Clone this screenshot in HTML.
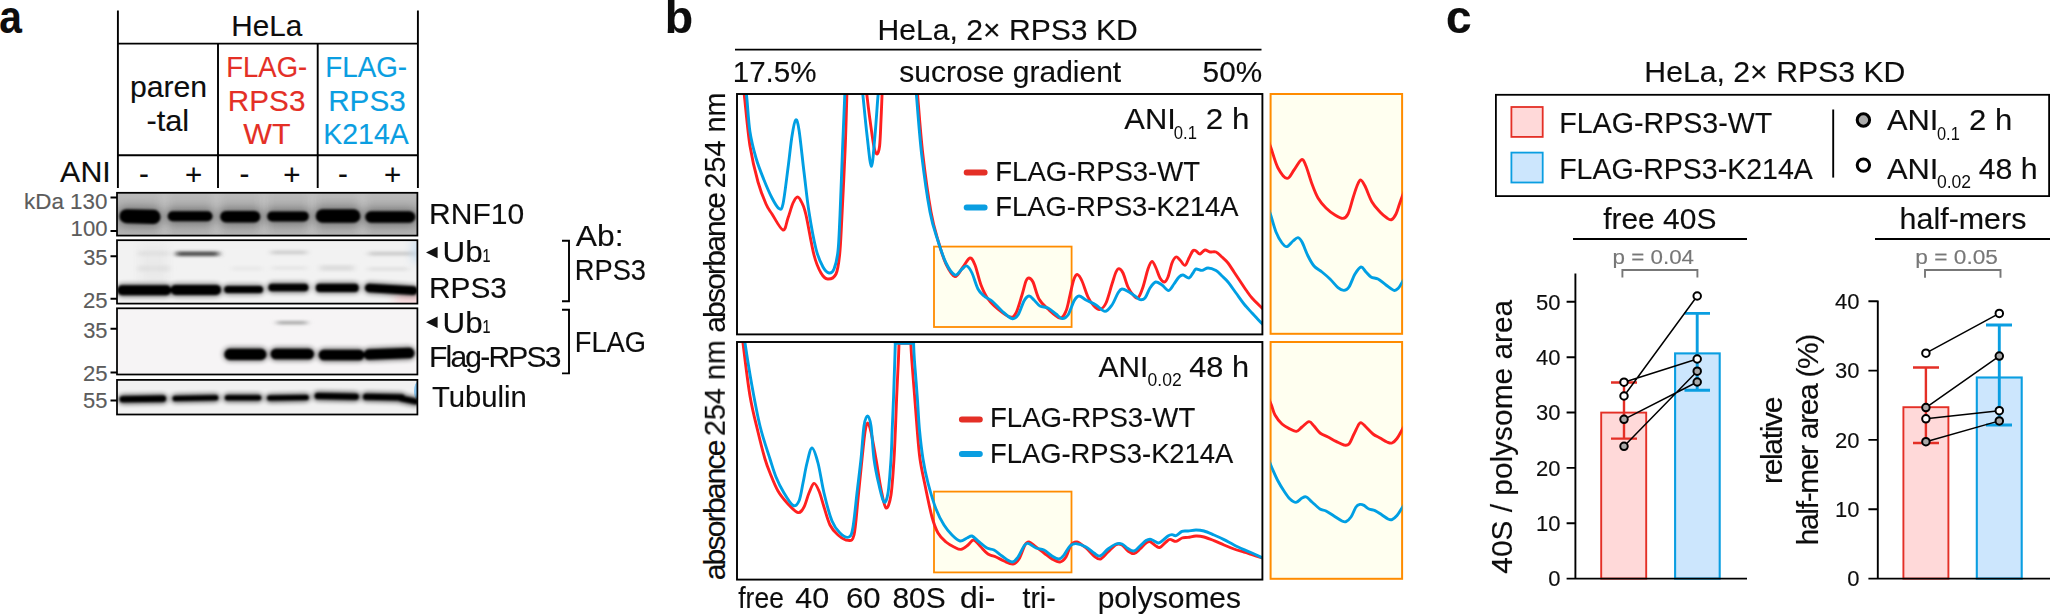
<!DOCTYPE html>
<html lang="en"><head><meta charset="utf-8"><title>Figure</title>
<style>
html,body{margin:0;padding:0;background:#fff;}
body{width:2050px;height:615px;overflow:hidden;}
svg{display:block;font-family:"Liberation Sans",Arial,sans-serif;}
text{fill:#0d0d0d;stroke:#0d0d0d;stroke-width:.14px;}
.g{fill:#5c5c5c;stroke:#5c5c5c;stroke-width:.14px;}
.s{stroke-width:0;}
.p{fill:#777;stroke:#777;stroke-width:.14px;}
.r{fill:#e42f26;stroke:#e42f26;}
.b{fill:#0a9ee1;stroke:#0a9ee1;}
</style></head><body>
<svg width="2050" height="615" viewBox="0 0 2050 615">
<defs>
<filter id="b1" x="-20%" y="-60%" width="140%" height="220%"><feGaussianBlur stdDeviation="1.3 1.1"/></filter>
<filter id="b2" x="-20%" y="-80%" width="140%" height="260%"><feGaussianBlur stdDeviation="2.4 2.2"/></filter>
<filter id="b5" x="-30%" y="-150%" width="160%" height="400%"><feGaussianBlur stdDeviation="4 5"/></filter>
<filter id="b3" x="-30%" y="-100%" width="160%" height="300%"><feGaussianBlur stdDeviation="3 1.5"/></filter>
<filter id="b4" x="-30%" y="-100%" width="160%" height="300%"><feGaussianBlur stdDeviation="5 4"/></filter>
<linearGradient id="g1" x1="0" y1="0" x2="0" y2="1"><stop offset="0" stop-color="#bcbcbc"/><stop offset="0.55" stop-color="#a6a6a6"/><stop offset="1" stop-color="#b4b4b4"/></linearGradient>
<clipPath id="k1"><rect x="117" y="192.8" width="300.4" height="42.8"/></clipPath>
<clipPath id="k2"><rect x="117" y="240.2" width="300.4" height="63.4"/></clipPath>
<clipPath id="k3"><rect x="117" y="308.3" width="300.4" height="66.2"/></clipPath>
<clipPath id="k4"><rect x="117" y="379.9" width="300.4" height="34.6"/></clipPath>
<clipPath id="c1"><rect x="737" y="94" width="525.4" height="240.4"/></clipPath>
<clipPath id="c2"><rect x="737" y="342" width="525.4" height="237.6"/></clipPath>
<clipPath id="i1"><rect x="1270.6" y="94" width="131.8" height="240.4"/></clipPath>
<clipPath id="i2"><rect x="1270.6" y="342" width="131.8" height="237"/></clipPath>
</defs>

<g id="panel-a">
<text x="-0.69" y="33.20" font-size="46" font-weight="bold" textLength="22.63" lengthAdjust="spacingAndGlyphs">a</text>
<text x="231.37" y="36.10" font-size="30.3" textLength="70.93" lengthAdjust="spacingAndGlyphs">HeLa</text>
<g stroke="#000" stroke-width="1.9" fill="none">
<path d="M117.9 10.5V188M417.9 10.5V188M218 43.6V188M317.7 43.6V188M117.9 43.6H417.9M117.9 155.2H417.9"/>
</g>
<text x="129.95" y="97.00" font-size="30" textLength="77.21" lengthAdjust="spacingAndGlyphs">paren</text>
<text x="146.43" y="130.60" font-size="30" textLength="42.72" lengthAdjust="spacingAndGlyphs">-tal</text>
<text class="r" x="226.35" y="76.70" font-size="29.3" textLength="80.77" lengthAdjust="spacingAndGlyphs">FLAG-</text>
<text class="r" x="227.87" y="110.70" font-size="29.3" textLength="77.54" lengthAdjust="spacingAndGlyphs">RPS3</text>
<text class="r" x="243.37" y="144.40" font-size="29.3" textLength="47.33" lengthAdjust="spacingAndGlyphs">WT</text>
<text class="b" x="325.32" y="76.70" font-size="29.3" textLength="81.81" lengthAdjust="spacingAndGlyphs">FLAG-</text>
<text class="b" x="328.16" y="110.70" font-size="29.3" textLength="77.64" lengthAdjust="spacingAndGlyphs">RPS3</text>
<text class="b" x="323.37" y="144.40" font-size="29.3" textLength="85.29" lengthAdjust="spacingAndGlyphs">K214A</text>
<text x="60.14" y="182.00" font-size="30.3" textLength="50.66" lengthAdjust="spacingAndGlyphs">ANI</text>
<text x="144" y="183.6" font-size="29.5" text-anchor="middle">-</text>
<text x="193.7" y="185.4" font-size="29.5" text-anchor="middle">+</text>
<text x="244.5" y="183.6" font-size="29.5" text-anchor="middle">-</text>
<text x="291.8" y="185.4" font-size="29.5" text-anchor="middle">+</text>
<text x="343" y="183.6" font-size="29.5" text-anchor="middle">-</text>
<text x="392.7" y="185.4" font-size="29.5" text-anchor="middle">+</text>
<text class="g" x="24.09" y="209.10" font-size="22.3" textLength="83.38" lengthAdjust="spacingAndGlyphs">kDa 130</text>
<text class="g" x="70.62" y="236.30" font-size="22.3" textLength="36.84" lengthAdjust="spacingAndGlyphs">100</text>
<text class="g" x="83.17" y="265.10" font-size="22.3" textLength="24.35" lengthAdjust="spacingAndGlyphs">35</text>
<text class="g" x="82.89" y="307.70" font-size="22.3" textLength="24.64" lengthAdjust="spacingAndGlyphs">25</text>
<text class="g" x="83.17" y="338.20" font-size="22.3" textLength="24.35" lengthAdjust="spacingAndGlyphs">35</text>
<text class="g" x="82.89" y="381.00" font-size="22.3" textLength="24.64" lengthAdjust="spacingAndGlyphs">25</text>
<text class="g" x="83.12" y="408.00" font-size="22.3" textLength="24.40" lengthAdjust="spacingAndGlyphs">55</text>
<path stroke="#000" stroke-width="2" d="M110.5 197.6H117M110.5 231H117M110.5 256.2H117M110.5 298.7H117M110.5 328.8H117M110.5 372.6H117M110.5 400.5H117"/>
<rect x="117" y="192.8" width="300.4" height="42.79999999999998" fill="url(#g1)"/>
<g clip-path="url(#k1)">
<g filter="url(#b4)" fill="#d2d2d2" opacity="0.8"><rect x="162.5" y="188" width="4" height="50"/><rect x="214.5" y="188" width="4" height="50"/><rect x="262" y="188" width="4" height="50"/><rect x="310" y="188" width="4" height="50"/><rect x="360.5" y="188" width="4" height="50"/></g>
<g filter="url(#b5)" fill="#000" opacity="0.32">
<rect x="117.8" y="207.3" width="44.4" height="18.5" rx="9.2" ry="9.2" transform="rotate(1.5 140.0 216.6)"/>
<rect x="166.0" y="209.1" width="48.2" height="14.5" rx="7.2" ry="7.2"/>
<rect x="218.5" y="208.7" width="43.5" height="16.0" rx="8.0" ry="8.0"/>
<rect x="265.5" y="209.2" width="45.0" height="14.5" rx="7.2" ry="7.2"/>
<rect x="314.0" y="207.0" width="48.1" height="18.0" rx="9.0" ry="9.0"/>
<rect x="363.5" y="209.0" width="53.5" height="16.0" rx="8.0" ry="8.0"/>
</g>
<g filter="url(#b1)" fill="#000">
<rect x="119.5" y="209.5" width="41.0" height="14.1" rx="7.0" ry="7.0" transform="rotate(1.5 140.0 216.6)"/>
<rect x="167.7" y="211.2" width="44.8" height="10.1" rx="5.0" ry="5.0"/>
<rect x="220.2" y="210.9" width="40.1" height="11.6" rx="5.8" ry="5.8"/>
<rect x="267.2" y="211.4" width="41.6" height="10.1" rx="5.0" ry="5.0"/>
<rect x="315.7" y="209.2" width="44.7" height="13.6" rx="6.8" ry="6.8"/>
<rect x="365.2" y="211.2" width="50.1" height="11.6" rx="5.8" ry="5.8"/>
</g></g>
<rect x="117" y="192.8" width="300.4" height="42.79999999999998" fill="none" stroke="#000" stroke-width="1.75"/>
<rect x="117" y="240.2" width="300.4" height="63.400000000000034" fill="#f2f2f2"/>
<g clip-path="url(#k2)">
<g filter="url(#b3)"><rect x="176" y="251.5" width="42.80000000000001" height="4.6" fill="#4c4c4c"/><rect x="271" y="250.4" width="35.80000000000001" height="4" fill="#cfcfcf"/><rect x="368.8" y="251.6" width="47.19999999999999" height="4" fill="#cccccc"/><rect x="139" y="251.0" width="29.5" height="5" fill="#dedede"/><rect x="139" y="265.5" width="29.5" height="6" fill="#dedede"/><rect x="232" y="266.5" width="30" height="4" fill="#e8e8e8"/><rect x="272" y="266.0" width="35" height="4" fill="#e6e6e6"/><rect x="320" y="265.0" width="34" height="6" fill="#dedede"/><rect x="368" y="267.0" width="40" height="4" fill="#e2e2e2"/></g><g filter="url(#b4)"><rect x="140" y="244" width="27" height="40" fill="#e4e4e4" opacity=".6"/><rect x="395" y="292" width="30" height="14" fill="#f6c8cc" opacity=".7"/><rect x="413" y="240" width="8" height="22" fill="#b8d4ee" opacity=".8"/></g>
<g filter="url(#b2)" fill="#000" opacity="0.4">
<rect x="115.5" y="283.1" width="57.5" height="14.5" rx="7.2" ry="7.2"/>
<rect x="169.0" y="282.8" width="53.7" height="14.5" rx="7.2" ry="7.2"/>
<rect x="222.5" y="283.8" width="42.3" height="11.5" rx="5.8" ry="5.8"/>
<rect x="266.7" y="281.5" width="43.4" height="12.0" rx="6.0" ry="6.0"/>
<rect x="314.1" y="281.6" width="46.3" height="12.5" rx="6.2" ry="6.2"/>
<rect x="363.2" y="282.8" width="56.3" height="13.0" rx="6.5" ry="6.5" transform="rotate(3.5 391.4 289.3)"/>
</g>
<g filter="url(#b1)" fill="#000">
<rect x="117.2" y="285.2" width="54.1" height="10.1" rx="5.0" ry="5.0"/>
<rect x="170.7" y="284.9" width="50.3" height="10.1" rx="5.0" ry="5.0"/>
<rect x="224.2" y="285.9" width="38.9" height="7.1" rx="3.5" ry="3.5"/>
<rect x="268.4" y="283.7" width="40.0" height="7.6" rx="3.8" ry="3.8"/>
<rect x="315.8" y="283.8" width="42.9" height="8.1" rx="4.0" ry="4.0"/>
<rect x="364.9" y="285.0" width="52.9" height="8.6" rx="4.3" ry="4.3" transform="rotate(3.5 391.4 289.3)"/>
</g></g>
<rect x="117" y="240.2" width="300.4" height="63.400000000000034" fill="none" stroke="#000" stroke-width="1.75"/>
<rect x="117" y="308.3" width="300.4" height="66.19999999999999" fill="#f6f4f5"/>
<g clip-path="url(#k3)">
<g filter="url(#b3)"><rect x="277" y="321" width="30" height="3.4" fill="#a8a8a8"/></g>
<g filter="url(#b2)" fill="#000" opacity="0.4">
<rect x="222.7" y="346.6" width="45.4" height="15.5" rx="7.8" ry="7.8"/>
<rect x="268.9" y="346.5" width="46.8" height="15.0" rx="7.5" ry="7.5"/>
<rect x="317.0" y="347.5" width="49.2" height="15.0" rx="7.5" ry="7.5"/>
<rect x="362.0" y="346.3" width="54.2" height="15.0" rx="7.5" ry="7.5" transform="rotate(-2.2 389.1 353.8)"/>
</g>
<g filter="url(#b1)" fill="#000">
<rect x="224.4" y="348.8" width="42.0" height="11.1" rx="5.5" ry="5.5"/>
<rect x="270.6" y="348.7" width="43.4" height="10.6" rx="5.3" ry="5.3"/>
<rect x="318.7" y="349.7" width="45.8" height="10.6" rx="5.3" ry="5.3"/>
<rect x="363.7" y="348.5" width="50.8" height="10.6" rx="5.3" ry="5.3" transform="rotate(-2.2 389.1 353.8)"/>
</g></g>
<rect x="117" y="308.3" width="300.4" height="66.19999999999999" fill="none" stroke="#000" stroke-width="1.75"/>
<rect x="117" y="379.9" width="300.4" height="34.60000000000002" fill="#f1f1f1"/>
<g clip-path="url(#k4)">
<ellipse cx="418.5" cy="391" rx="4.5" ry="9.5" fill="#86c3ee"/>
<g filter="url(#b2)" fill="#000" opacity="0.55">
<rect x="117.9" y="393.8" width="49.8" height="10.5" rx="5.2" ry="5.2" transform="rotate(-0.8 142.8 399.0)"/>
<rect x="170.9" y="393.4" width="49.1" height="9.5" rx="4.8" ry="4.8" transform="rotate(-1.2 195.4 398.2)"/>
<rect x="223.2" y="393.1" width="39.7" height="9.5" rx="4.8" ry="4.8"/>
<rect x="265.4" y="393.1" width="45.1" height="9.5" rx="4.8" ry="4.8" transform="rotate(-1 287.9 397.8)"/>
<rect x="313.0" y="391.1" width="47.5" height="10.5" rx="5.2" ry="5.2" transform="rotate(1 336.8 396.4)"/>
<rect x="361.4" y="391.9" width="45.1" height="10.5" rx="5.2" ry="5.2" transform="rotate(1.2 383.9 397.2)"/>
<rect x="396.5" y="395.0" width="24.0" height="10.0" rx="5.0" ry="5.0" transform="rotate(12 408.5 400.0)"/>
</g>
<g filter="url(#b1)" fill="#000">
<rect x="119.6" y="395.9" width="46.4" height="6.1" rx="3.0" ry="3.0" transform="rotate(-0.8 142.8 399.0)"/>
<rect x="172.6" y="395.6" width="45.7" height="5.1" rx="2.5" ry="2.5" transform="rotate(-1.2 195.4 398.2)"/>
<rect x="224.9" y="395.2" width="36.3" height="5.1" rx="2.5" ry="2.5"/>
<rect x="267.1" y="395.2" width="41.7" height="5.1" rx="2.5" ry="2.5" transform="rotate(-1 287.9 397.8)"/>
<rect x="314.7" y="393.3" width="44.1" height="6.1" rx="3.0" ry="3.0" transform="rotate(1 336.8 396.4)"/>
<rect x="363.1" y="394.1" width="41.7" height="6.1" rx="3.0" ry="3.0" transform="rotate(1.2 383.9 397.2)"/>
<rect x="398.2" y="397.2" width="20.6" height="5.6" rx="2.8" ry="2.8" transform="rotate(12 408.5 400.0)"/>
</g></g>
<rect x="117" y="379.9" width="300.4" height="34.60000000000002" fill="none" stroke="#000" stroke-width="1.75"/>
<text x="429.04" y="224.00" font-size="30.3" textLength="95.14" lengthAdjust="spacingAndGlyphs">RNF10</text>
<path d="M426 252.5L437.6 246.8V258.2ZM426 322.3L437.6 316.6V328Z" fill="#111"/>
<text x="442.58" y="262.20" font-size="30.3" textLength="40.14" lengthAdjust="spacingAndGlyphs">Ub</text>
<text x="482.50" y="262.20" font-size="18.5" textLength="8.00" lengthAdjust="spacingAndGlyphs">1</text>
<text x="429.06" y="298.00" font-size="30.3" textLength="77.85" lengthAdjust="spacingAndGlyphs">RPS3</text>
<text x="442.58" y="333.20" font-size="30.3" textLength="40.14" lengthAdjust="spacingAndGlyphs">Ub</text>
<text x="482.50" y="333.20" font-size="18.5" textLength="8.00" lengthAdjust="spacingAndGlyphs">1</text>
<text x="429.04" y="367.10" font-size="30" textLength="132.48" lengthAdjust="spacing">Flag-RPS3</text>
<text x="431.95" y="407.30" font-size="30.3" textLength="94.93" lengthAdjust="spacingAndGlyphs">Tubulin</text>
<path fill="none" stroke="#000" stroke-width="1.9" d="M562 240.8H569V301.2H562M562 309.8H569V373.4H562"/>
<text x="575.74" y="245.50" font-size="30.3" textLength="47.77" lengthAdjust="spacingAndGlyphs">Ab:</text>
<text x="574.76" y="279.80" font-size="30.3" textLength="71.24" lengthAdjust="spacingAndGlyphs">RPS3</text>
<text x="574.76" y="351.50" font-size="30.3" textLength="71.28" lengthAdjust="spacingAndGlyphs">FLAG</text>
</g>
<g id="panel-b">
<text x="664.74" y="33.20" font-size="46" font-weight="bold" textLength="28.37" lengthAdjust="spacingAndGlyphs">b</text>
<text x="877.53" y="39.60" font-size="30.3" textLength="260.21" lengthAdjust="spacingAndGlyphs">HeLa, 2× RPS3 KD</text>
<path stroke="#000" stroke-width="1.9" d="M735 49.6H1261.5"/>
<text x="732.75" y="81.80" font-size="30.3" textLength="83.70" lengthAdjust="spacingAndGlyphs">17.5%</text>
<text x="899.36" y="81.80" font-size="30.3" textLength="221.85" lengthAdjust="spacingAndGlyphs">sucrose gradient</text>
<text x="1202.61" y="81.80" font-size="30.3" textLength="59.45" lengthAdjust="spacingAndGlyphs">50%</text>
<text transform="translate(724.80 331.60) rotate(-90)" x="-1.27" y="0" font-size="30" textLength="140.81" lengthAdjust="spacing">absorbance</text>
<text transform="translate(724.80 187.10) rotate(-90)" x="-1.45" y="0" font-size="30.3" textLength="96.05" lengthAdjust="spacingAndGlyphs">254 nm</text>
<text transform="translate(724.80 579.00) rotate(-90)" x="-1.27" y="0" font-size="30" textLength="140.81" lengthAdjust="spacing">absorbance</text>
<text transform="translate(724.80 434.60) rotate(-90)" x="-1.44" y="0" font-size="30.3" textLength="95.74" lengthAdjust="spacingAndGlyphs">254 nm</text>
<rect x="934" y="246.6" width="137.6" height="80.4" fill="#fffff0" stroke="#ff8c00" stroke-width="1.8"/>
<rect x="934" y="491.6" width="137.5" height="80.8" fill="#fffff0" stroke="#ff8c00" stroke-width="1.8"/>
<rect x="1270.6" y="94" width="131.5" height="239.8" fill="#fffff0" stroke="#ff8c00" stroke-width="2"/>
<rect x="1270.6" y="342" width="131.5" height="236.8" fill="#fffff0" stroke="#ff8c00" stroke-width="2"/>
<g clip-path="url(#c1)" fill="none" stroke-width="2.9" stroke-linejoin="round" stroke-linecap="round">
<path stroke="#ff2020" d="M743.5 90.0C743.6 91.0 743.3 86.7 744.4 96.0C745.5 105.3 747.7 131.7 750.0 146.0C752.3 160.3 755.3 172.3 758.0 182.0C760.7 191.7 763.7 198.7 766.0 204.0C768.3 209.3 769.2 209.7 772.0 214.0C774.8 218.3 780.3 229.3 783.0 230.0C785.7 230.7 786.3 222.5 788.0 218.0C789.7 213.5 791.4 206.5 793.0 203.0C794.6 199.5 796.1 197.0 797.6 197.0C799.1 197.0 800.6 200.0 802.0 203.0C803.4 206.0 804.0 206.3 806.0 215.0C808.0 223.7 811.5 245.3 814.0 255.0C816.5 264.7 818.7 269.0 821.0 273.0C823.3 277.0 825.1 278.8 827.6 279.0C830.1 279.2 834.0 278.0 836.0 274.0C838.0 270.0 838.6 264.2 839.6 255.0C840.6 245.8 840.9 236.5 841.8 219.0C842.7 201.5 844.2 171.5 845.1 150.0C846.0 128.5 846.7 100.0 847.0 90.0"/>
<path stroke="#ff2020" d="M866.5 90.0C866.6 91.0 866.4 91.0 867.0 96.0C867.6 101.0 868.8 111.5 870.0 120.0C871.2 128.5 872.8 141.3 874.0 147.0C875.2 152.7 876.1 154.2 877.0 154.0C877.9 153.8 878.9 151.7 879.6 146.0C880.3 140.3 880.6 128.3 881.0 120.0C881.4 111.7 881.8 101.0 882.0 96.0C882.2 91.0 882.4 91.0 882.5 90.0"/>
<path stroke="#ff2020" d="M917.2 90.0C917.3 91.0 916.8 85.3 917.7 96.0C918.6 106.7 920.6 134.7 922.8 154.0C925.0 173.3 928.4 197.3 931.0 212.0C933.6 226.7 936.0 233.3 938.5 242.0C941.0 250.7 943.2 258.2 946.0 264.0C948.8 269.8 952.2 276.1 955.0 276.6C957.8 277.1 960.5 270.1 963.0 267.0C965.5 263.9 968.0 258.3 970.0 258.0C972.0 257.7 973.2 260.5 975.0 265.0C976.8 269.5 978.8 279.3 981.0 285.0C983.2 290.7 985.2 295.0 988.0 299.0C990.8 303.0 994.3 306.0 998.0 309.0C1001.7 312.0 1007.0 316.3 1010.0 317.0C1013.0 317.7 1014.0 316.7 1016.0 313.0C1018.0 309.3 1020.3 300.3 1022.0 295.0C1023.7 289.7 1024.8 283.8 1026.0 281.0C1027.2 278.2 1027.8 277.8 1029.0 278.0C1030.2 278.2 1031.3 278.5 1033.0 282.0C1034.7 285.5 1036.5 294.5 1039.0 299.0C1041.5 303.5 1044.5 305.8 1048.0 309.0C1051.5 312.2 1057.0 317.7 1060.0 318.0C1063.0 318.3 1064.3 314.8 1066.0 311.0C1067.7 307.2 1068.7 300.3 1070.0 295.0C1071.3 289.7 1072.7 282.4 1074.0 279.0C1075.3 275.6 1076.3 274.3 1077.6 274.6C1078.9 274.9 1080.3 277.3 1082.0 281.0C1083.7 284.7 1086.0 292.8 1088.0 297.0C1090.0 301.2 1092.0 303.9 1094.0 306.0C1096.0 308.1 1098.0 309.9 1100.0 309.4C1102.0 308.9 1104.0 307.2 1106.0 303.0C1108.0 298.8 1110.3 289.2 1112.0 284.0C1113.7 278.8 1114.8 274.6 1116.0 272.0C1117.2 269.4 1117.8 268.4 1119.0 268.6C1120.2 268.8 1121.5 269.9 1123.0 273.0C1124.5 276.1 1126.2 283.2 1128.0 287.0C1129.8 290.8 1132.3 294.3 1134.0 296.0C1135.7 297.7 1136.9 298.9 1138.4 297.4C1139.9 295.9 1141.4 291.7 1143.0 287.0C1144.6 282.3 1146.5 273.3 1148.0 269.0C1149.5 264.7 1150.7 261.6 1152.0 261.4C1153.3 261.2 1154.7 265.2 1156.0 268.0C1157.3 270.8 1158.6 275.7 1160.0 278.0C1161.4 280.3 1163.1 282.2 1164.4 282.0C1165.7 281.8 1166.7 280.2 1168.0 277.0C1169.3 273.8 1170.7 266.3 1172.0 263.0C1173.3 259.7 1174.7 257.5 1176.0 257.0C1177.3 256.5 1178.5 258.6 1180.0 260.0C1181.5 261.4 1183.5 265.7 1185.0 265.4C1186.5 265.1 1187.7 260.5 1189.0 258.0C1190.3 255.5 1191.8 251.8 1193.0 250.6C1194.2 249.4 1194.8 250.4 1196.0 251.0C1197.2 251.6 1198.5 254.2 1200.0 254.0C1201.5 253.8 1203.3 250.3 1205.0 250.0C1206.7 249.7 1208.2 251.7 1210.0 252.0C1211.8 252.3 1214.0 251.2 1216.0 252.0C1218.0 252.8 1220.0 255.2 1222.0 257.0C1224.0 258.8 1226.0 260.5 1228.0 263.0C1230.0 265.5 1232.0 269.0 1234.0 272.0C1236.0 275.0 1238.0 278.0 1240.0 281.0C1242.0 284.0 1244.0 287.2 1246.0 290.0C1248.0 292.8 1249.3 295.0 1252.0 298.0C1254.7 301.0 1259.7 305.7 1262.0 308.0C1264.3 310.3 1265.3 311.3 1266.0 312.0"/>
<path stroke="#009fe3" d="M746.0 90.0C746.2 91.7 746.3 93.0 747.0 100.0C747.7 107.0 748.5 122.3 750.0 132.0C751.5 141.7 753.7 150.0 756.0 158.0C758.3 166.0 761.3 173.3 764.0 180.0C766.7 186.7 769.5 193.2 772.0 198.0C774.5 202.8 777.2 207.6 779.0 208.6C780.8 209.6 781.5 210.8 783.0 204.0C784.5 197.2 786.5 179.3 788.0 168.0C789.5 156.7 790.7 144.0 792.0 136.0C793.3 128.0 794.4 121.0 795.6 120.0C796.8 119.0 797.6 121.3 799.0 130.0C800.4 138.7 802.3 158.3 804.0 172.0C805.7 185.7 807.0 199.2 809.0 212.0C811.0 224.8 813.7 239.8 816.0 249.0C818.3 258.2 820.8 263.0 823.0 267.0C825.2 271.0 827.2 272.7 829.0 273.0C830.8 273.3 832.5 272.7 834.0 269.0C835.5 265.3 837.0 260.0 838.0 251.0C839.0 242.0 839.2 231.8 840.0 215.0C840.8 198.2 841.7 170.8 842.5 150.0C843.3 129.2 844.6 100.0 845.0 90.0"/>
<path stroke="#009fe3" d="M862.0 90.0C862.2 91.0 862.2 88.5 863.0 96.0C863.8 103.5 865.6 123.3 867.0 135.0C868.4 146.7 870.1 166.4 871.4 166.4C872.7 166.4 873.9 146.7 875.0 135.0C876.1 123.3 877.3 103.5 878.0 96.0C878.7 88.5 878.8 91.0 879.0 90.0"/>
<path stroke="#009fe3" d="M916.0 90.0C916.1 91.0 915.6 85.3 916.5 96.0C917.4 106.7 919.4 134.7 921.6 154.0C923.9 173.3 927.3 197.5 930.0 212.0C932.7 226.5 935.3 232.5 938.0 241.0C940.7 249.5 943.2 257.3 946.0 263.0C948.8 268.7 952.3 274.0 955.0 275.0C957.7 276.0 960.0 270.5 962.0 269.0C964.0 267.5 965.3 265.3 967.0 266.0C968.7 266.7 970.2 269.2 972.0 273.0C973.8 276.8 976.0 285.2 978.0 289.0C980.0 292.8 981.7 294.0 984.0 296.0C986.3 298.0 989.0 298.5 992.0 301.0C995.0 303.5 998.7 308.1 1002.0 311.0C1005.3 313.9 1009.3 317.9 1012.0 318.6C1014.7 319.3 1016.0 317.9 1018.0 315.0C1020.0 312.1 1022.2 304.2 1024.0 301.0C1025.8 297.8 1027.3 296.2 1029.0 296.0C1030.7 295.8 1032.2 298.3 1034.0 300.0C1035.8 301.7 1037.7 304.7 1040.0 306.0C1042.3 307.3 1045.3 306.7 1048.0 308.0C1050.7 309.3 1053.7 312.2 1056.0 314.0C1058.3 315.8 1060.0 318.4 1062.0 318.6C1064.0 318.8 1066.0 317.9 1068.0 315.0C1070.0 312.1 1072.2 304.2 1074.0 301.0C1075.8 297.8 1077.0 296.2 1079.0 296.0C1081.0 295.8 1083.2 298.5 1086.0 300.0C1088.8 301.5 1092.8 303.1 1096.0 305.0C1099.2 306.9 1102.3 311.4 1105.0 311.4C1107.7 311.4 1109.8 308.1 1112.0 305.0C1114.2 301.9 1116.3 295.7 1118.0 293.0C1119.7 290.3 1120.2 289.2 1122.0 289.0C1123.8 288.8 1126.8 290.8 1129.0 292.0C1131.2 293.2 1133.2 294.7 1135.0 296.0C1136.8 297.3 1138.3 299.3 1140.0 299.6C1141.7 299.9 1143.3 299.9 1145.0 298.0C1146.7 296.1 1148.2 290.7 1150.0 288.0C1151.8 285.3 1153.6 282.5 1155.6 282.0C1157.6 281.5 1159.8 283.6 1162.0 285.0C1164.2 286.4 1166.6 290.8 1168.6 290.6C1170.6 290.4 1172.3 286.3 1174.0 284.0C1175.7 281.7 1177.5 278.5 1179.0 277.0C1180.5 275.5 1181.3 274.8 1183.0 275.0C1184.7 275.2 1187.3 278.3 1189.0 278.0C1190.7 277.7 1191.8 274.5 1193.0 273.0C1194.2 271.5 1194.5 269.4 1196.0 269.0C1197.5 268.6 1200.0 270.6 1202.0 270.4C1204.0 270.2 1205.7 268.0 1208.0 268.0C1210.3 268.0 1213.7 269.3 1216.0 270.6C1218.3 271.9 1220.0 274.1 1222.0 276.0C1224.0 277.9 1225.7 279.2 1228.0 282.0C1230.3 284.8 1233.3 289.3 1236.0 293.0C1238.7 296.7 1241.3 300.7 1244.0 304.0C1246.7 307.3 1249.0 309.7 1252.0 313.0C1255.0 316.3 1259.7 321.1 1262.0 323.6C1264.3 326.1 1265.3 327.3 1266.0 328.0"/>
</g>
<g clip-path="url(#c2)" fill="none" stroke-width="2.9" stroke-linejoin="round" stroke-linecap="round">
<path stroke="#ff2020" d="M742.5 338.0C742.6 338.8 741.8 333.3 743.0 343.0C744.2 352.7 747.5 381.2 750.0 396.0C752.5 410.8 755.5 421.5 758.0 432.0C760.5 442.5 763.0 452.2 765.0 459.0C767.0 465.8 767.8 467.7 770.0 473.0C772.2 478.3 775.0 485.8 778.0 491.0C781.0 496.2 784.7 500.4 788.0 504.0C791.3 507.6 795.3 512.1 798.0 512.6C800.7 513.1 802.2 510.3 804.0 507.0C805.8 503.7 807.3 496.9 809.0 493.0C810.7 489.1 812.3 483.7 814.0 483.4C815.7 483.1 817.3 487.1 819.0 491.0C820.7 494.9 822.2 501.3 824.0 507.0C825.8 512.7 827.7 520.3 830.0 525.0C832.3 529.7 835.0 532.4 838.0 535.0C841.0 537.6 845.3 540.4 848.0 540.4C850.7 540.4 852.3 541.9 854.0 535.0C855.7 528.1 856.7 511.7 858.0 499.0C859.3 486.3 860.8 470.2 862.0 459.0C863.2 447.8 864.1 438.0 865.0 432.0C865.9 426.0 866.6 423.0 867.6 423.0C868.6 423.0 869.6 426.0 871.0 432.0C872.4 438.0 874.3 449.5 876.0 459.0C877.7 468.5 879.3 480.8 881.0 489.0C882.7 497.2 884.3 507.0 886.0 508.0C887.7 509.0 889.7 503.2 891.0 495.0C892.3 486.8 893.3 469.8 894.0 459.0C894.7 448.2 894.9 440.5 895.4 430.0C895.9 419.5 896.2 407.7 896.7 396.0C897.2 384.3 898.0 368.8 898.4 360.0C898.8 351.2 898.9 346.0 899.0 343.2"/>
<path stroke="#ff2020" d="M910.8 343.2C911.0 346.0 911.2 351.2 911.8 360.0C912.4 368.8 913.7 384.3 914.6 396.0C915.5 407.7 916.3 419.5 917.2 430.0C918.1 440.5 918.7 449.8 920.0 459.0C921.3 468.2 923.0 475.3 925.0 485.0C927.0 494.7 929.8 509.0 932.0 517.0C934.2 525.0 935.7 528.8 938.0 533.0C940.3 537.2 943.3 539.7 946.0 542.0C948.7 544.3 951.5 545.8 954.0 547.0C956.5 548.2 958.7 549.7 961.0 549.4C963.3 549.1 965.9 546.6 968.0 545.0C970.1 543.4 971.6 539.8 973.6 540.0C975.6 540.2 977.6 543.7 980.0 546.0C982.4 548.3 985.3 552.2 988.0 554.0C990.7 555.8 993.3 555.8 996.0 557.0C998.7 558.2 1001.2 559.8 1004.0 561.0C1006.8 562.2 1010.5 564.3 1013.0 564.0C1015.5 563.7 1017.0 562.2 1019.0 559.0C1021.0 555.8 1023.3 547.8 1025.0 545.0C1026.7 542.2 1027.2 541.7 1029.0 542.0C1030.8 542.3 1033.5 545.2 1036.0 547.0C1038.5 548.8 1041.3 551.0 1044.0 553.0C1046.7 555.0 1049.3 557.5 1052.0 559.0C1054.7 560.5 1057.7 562.3 1060.0 562.0C1062.3 561.7 1064.2 559.8 1066.0 557.0C1067.8 554.2 1069.2 547.5 1071.0 545.0C1072.8 542.5 1074.5 541.5 1077.0 542.0C1079.5 542.5 1083.2 545.7 1086.0 548.0C1088.8 550.3 1091.6 554.2 1094.0 556.0C1096.4 557.8 1098.3 559.7 1100.6 559.0C1102.9 558.3 1105.4 554.4 1108.0 552.0C1110.6 549.6 1113.7 545.8 1116.0 544.6C1118.3 543.4 1120.0 543.9 1122.0 545.0C1124.0 546.1 1126.0 549.6 1128.0 551.0C1130.0 552.4 1132.0 553.9 1134.0 553.6C1136.0 553.3 1138.0 550.8 1140.0 549.0C1142.0 547.2 1144.3 544.2 1146.0 543.0C1147.7 541.8 1148.3 541.1 1150.0 541.6C1151.7 542.1 1154.3 545.0 1156.0 546.0C1157.7 547.0 1158.3 548.1 1160.0 547.4C1161.7 546.7 1164.3 543.3 1166.0 542.0C1167.7 540.7 1168.3 539.5 1170.0 539.4C1171.7 539.3 1174.0 541.6 1176.0 541.4C1178.0 541.2 1180.0 538.7 1182.0 538.0C1184.0 537.3 1185.7 537.7 1188.0 537.4C1190.3 537.1 1193.3 536.1 1196.0 536.0C1198.7 535.9 1201.0 536.2 1204.0 537.0C1207.0 537.8 1210.7 539.3 1214.0 540.6C1217.3 541.9 1220.7 543.6 1224.0 545.0C1227.3 546.4 1230.7 547.8 1234.0 549.0C1237.3 550.2 1241.0 551.1 1244.0 552.0C1247.0 552.9 1249.0 553.6 1252.0 554.6C1255.0 555.6 1259.7 557.2 1262.0 558.0C1264.3 558.8 1265.3 559.2 1266.0 559.5"/>
<path stroke="#ff2020" d="M899.0 343.2C901.0 343.2 908.8 343.2 910.8 343.2"/>
<path stroke="#009fe3" d="M744.5 338.0C744.6 338.8 743.8 335.0 745.0 343.0C746.2 351.0 749.5 372.2 752.0 386.0C754.5 399.8 757.0 413.8 760.0 426.0C763.0 438.2 767.3 450.5 770.0 459.0C772.7 467.5 773.7 471.3 776.0 477.0C778.3 482.7 781.2 488.3 784.0 493.0C786.8 497.7 790.5 504.1 793.0 505.4C795.5 506.7 797.3 504.7 799.0 501.0C800.7 497.3 801.7 489.3 803.0 483.0C804.3 476.7 805.5 468.8 807.0 463.0C808.5 457.2 810.2 448.0 812.0 448.0C813.8 448.0 816.0 455.5 818.0 463.0C820.0 470.5 821.7 483.3 824.0 493.0C826.3 502.7 829.3 514.3 832.0 521.0C834.7 527.7 837.2 530.3 840.0 533.0C842.8 535.7 846.8 538.0 849.0 537.0C851.2 536.0 851.7 534.3 853.0 527.0C854.3 519.7 855.7 504.3 857.0 493.0C858.3 481.7 859.8 470.2 861.0 459.0C862.2 447.8 862.9 433.2 864.0 426.0C865.1 418.8 866.4 416.0 867.6 416.0C868.8 416.0 869.9 418.8 871.0 426.0C872.1 433.2 872.7 449.2 874.0 459.0C875.3 468.8 877.3 477.8 879.0 485.0C880.7 492.2 882.5 500.7 884.0 502.0C885.5 503.3 886.8 500.2 888.0 493.0C889.2 485.8 890.3 469.5 891.0 459.0C891.7 448.5 891.8 440.5 892.2 430.0C892.6 419.5 893.2 407.7 893.6 396.0C894.0 384.3 894.5 368.8 894.8 360.0C895.1 351.2 895.2 346.0 895.3 343.2"/>
<path stroke="#009fe3" d="M913.6 343.2C913.7 346.0 913.8 351.2 914.4 360.0C915.0 368.8 916.4 384.3 917.2 396.0C918.1 407.7 918.5 419.5 919.5 430.0C920.5 440.5 921.6 450.2 923.0 459.0C924.4 467.8 925.8 474.7 928.0 483.0C930.2 491.3 933.3 502.0 936.0 509.0C938.7 516.0 941.3 520.7 944.0 525.0C946.7 529.3 949.3 532.3 952.0 535.0C954.7 537.7 957.5 540.5 960.0 541.0C962.5 541.5 965.0 538.8 967.0 538.0C969.0 537.2 970.2 535.5 972.0 536.0C973.8 536.5 975.5 539.0 978.0 541.0C980.5 543.0 984.3 546.5 987.0 548.0C989.7 549.5 991.5 548.7 994.0 550.0C996.5 551.3 999.0 554.0 1002.0 556.0C1005.0 558.0 1009.3 561.8 1012.0 562.0C1014.7 562.2 1016.0 559.7 1018.0 557.0C1020.0 554.3 1022.3 548.3 1024.0 546.0C1025.7 543.7 1026.0 543.1 1028.0 543.4C1030.0 543.7 1033.3 546.9 1036.0 548.0C1038.7 549.1 1041.3 548.7 1044.0 550.0C1046.7 551.3 1049.5 554.5 1052.0 556.0C1054.5 557.5 1057.0 559.2 1059.0 559.0C1061.0 558.8 1062.2 557.2 1064.0 555.0C1065.8 552.8 1068.0 547.9 1070.0 546.0C1072.0 544.1 1073.3 543.4 1076.0 543.6C1078.7 543.8 1083.0 545.4 1086.0 547.0C1089.0 548.6 1091.7 551.5 1094.0 553.0C1096.3 554.5 1097.7 556.7 1100.0 556.0C1102.3 555.3 1105.3 551.0 1108.0 549.0C1110.7 547.0 1113.7 544.8 1116.0 544.0C1118.3 543.2 1120.0 543.2 1122.0 544.0C1124.0 544.8 1126.0 547.4 1128.0 548.6C1130.0 549.8 1132.0 551.4 1134.0 551.0C1136.0 550.6 1138.0 547.7 1140.0 546.0C1142.0 544.3 1144.2 541.7 1146.0 540.6C1147.8 539.5 1149.0 539.0 1151.0 539.4C1153.0 539.8 1156.2 542.7 1158.0 543.0C1159.8 543.3 1160.3 542.2 1162.0 541.0C1163.7 539.8 1166.3 537.1 1168.0 536.0C1169.7 534.9 1170.7 534.7 1172.0 534.6C1173.3 534.5 1174.3 536.1 1176.0 535.6C1177.7 535.1 1180.0 532.2 1182.0 531.4C1184.0 530.6 1185.7 531.2 1188.0 531.0C1190.3 530.8 1193.3 530.0 1196.0 530.0C1198.7 530.0 1201.0 530.2 1204.0 531.0C1207.0 531.8 1210.7 533.6 1214.0 535.0C1217.3 536.4 1220.7 537.9 1224.0 539.6C1227.3 541.3 1230.7 543.3 1234.0 545.0C1237.3 546.7 1241.0 548.3 1244.0 549.6C1247.0 550.9 1249.0 551.7 1252.0 553.0C1255.0 554.3 1259.7 556.5 1262.0 557.6C1264.3 558.7 1265.3 559.2 1266.0 559.5"/>
<path stroke="#009fe3" d="M895.3 343.2C898.3 343.2 910.5 343.2 913.6 343.2"/>
</g>
<g clip-path="url(#i1)" fill="none" stroke-width="2.9" stroke-linejoin="round" stroke-linecap="round">
<path stroke="#ff2020" d="M1268.0 140.0C1268.5 141.3 1269.3 143.3 1271.0 148.0C1272.7 152.7 1275.3 162.9 1278.0 168.0C1280.7 173.1 1284.3 178.1 1287.0 178.4C1289.7 178.7 1291.6 173.1 1294.0 170.0C1296.4 166.9 1299.6 160.3 1301.6 159.6C1303.6 158.9 1304.3 161.9 1306.0 166.0C1307.7 170.1 1310.0 178.7 1312.0 184.0C1314.0 189.3 1315.7 194.0 1318.0 198.0C1320.3 202.0 1323.2 205.2 1326.0 208.0C1328.8 210.8 1332.2 213.3 1335.0 215.0C1337.8 216.7 1340.8 218.6 1343.0 218.4C1345.2 218.2 1346.3 217.4 1348.0 214.0C1349.7 210.6 1351.5 202.7 1353.0 198.0C1354.5 193.3 1355.7 189.0 1357.0 186.0C1358.3 183.0 1359.3 180.0 1360.6 180.0C1361.9 180.0 1363.1 182.3 1365.0 186.0C1366.9 189.7 1369.5 197.7 1372.0 202.0C1374.5 206.3 1377.5 209.3 1380.0 212.0C1382.5 214.7 1385.1 216.7 1387.0 218.0C1388.9 219.3 1390.1 220.3 1391.6 219.6C1393.1 218.9 1394.7 216.6 1396.0 214.0C1397.3 211.4 1398.5 206.8 1399.5 204.0C1400.5 201.2 1401.2 199.0 1402.0 197.0C1402.8 195.0 1403.7 192.8 1404.0 192.0"/>
<path stroke="#009fe3" d="M1268.0 208.0C1268.5 209.3 1269.7 212.0 1271.0 216.0C1272.3 220.0 1274.2 227.5 1276.0 232.0C1277.8 236.5 1280.2 240.6 1282.0 243.0C1283.8 245.4 1285.2 246.9 1287.0 246.6C1288.8 246.3 1291.2 242.5 1293.0 241.0C1294.8 239.5 1296.5 237.4 1298.0 237.6C1299.5 237.8 1300.3 238.9 1302.0 242.0C1303.7 245.1 1306.0 252.0 1308.0 256.0C1310.0 260.0 1311.7 263.3 1314.0 266.0C1316.3 268.7 1319.3 269.8 1322.0 272.0C1324.7 274.2 1327.3 276.4 1330.0 279.0C1332.7 281.6 1335.7 285.7 1338.0 287.6C1340.3 289.5 1342.2 290.5 1344.0 290.4C1345.8 290.3 1347.2 289.7 1349.0 287.0C1350.8 284.3 1353.0 277.3 1355.0 274.0C1357.0 270.7 1359.2 267.3 1361.0 267.0C1362.8 266.7 1364.3 270.3 1366.0 272.0C1367.7 273.7 1369.0 275.8 1371.0 277.0C1373.0 278.2 1375.5 277.7 1378.0 279.0C1380.5 280.3 1383.3 283.1 1386.0 285.0C1388.7 286.9 1391.9 289.9 1394.0 290.4C1396.1 290.9 1397.2 289.3 1398.5 288.0C1399.8 286.7 1401.1 283.9 1402.0 282.5C1402.9 281.1 1403.7 280.0 1404.0 279.5"/>
</g>
<g clip-path="url(#i2)" fill="none" stroke-width="2.9" stroke-linejoin="round" stroke-linecap="round">
<path stroke="#ff2020" d="M1268.0 397.0C1268.6 398.3 1270.2 402.0 1271.4 405.0C1272.6 408.0 1273.2 411.8 1275.0 415.0C1276.8 418.2 1279.5 421.7 1282.0 424.0C1284.5 426.3 1287.6 427.8 1290.0 429.0C1292.4 430.2 1294.4 431.7 1296.4 431.4C1298.4 431.1 1299.9 428.6 1302.0 427.0C1304.1 425.4 1307.0 421.8 1309.0 421.6C1311.0 421.4 1312.2 424.1 1314.0 426.0C1315.8 427.9 1317.7 431.2 1320.0 433.0C1322.3 434.8 1325.3 435.6 1328.0 437.0C1330.7 438.4 1333.3 440.1 1336.0 441.4C1338.7 442.7 1341.8 444.6 1344.0 445.0C1346.2 445.4 1347.3 445.8 1349.0 444.0C1350.7 442.2 1352.3 437.3 1354.0 434.0C1355.7 430.7 1357.7 425.8 1359.0 424.0C1360.3 422.2 1360.4 422.5 1361.6 423.0C1362.8 423.5 1364.1 425.2 1366.0 427.0C1367.9 428.8 1370.7 432.2 1373.0 434.0C1375.3 435.8 1377.7 436.7 1380.0 438.0C1382.3 439.3 1385.0 441.2 1387.0 442.0C1389.0 442.8 1390.3 443.6 1392.0 443.0C1393.7 442.4 1395.3 440.7 1397.0 438.5C1398.7 436.3 1400.8 432.0 1402.0 430.0C1403.2 428.0 1403.7 427.1 1404.0 426.5"/>
<path stroke="#009fe3" d="M1268.0 458.0C1268.7 459.7 1270.3 464.2 1272.0 468.0C1273.7 471.8 1276.0 477.2 1278.0 481.0C1280.0 484.8 1282.0 488.0 1284.0 491.0C1286.0 494.0 1288.0 497.1 1290.0 499.0C1292.0 500.9 1294.0 502.6 1296.0 502.4C1298.0 502.2 1300.3 498.9 1302.0 498.0C1303.7 497.1 1304.7 496.3 1306.4 497.0C1308.1 497.7 1309.7 500.0 1312.0 502.0C1314.3 504.0 1317.7 507.5 1320.0 509.0C1322.3 510.5 1323.7 509.8 1326.0 511.0C1328.3 512.2 1331.3 514.3 1334.0 516.0C1336.7 517.7 1340.0 520.1 1342.0 521.0C1344.0 521.9 1344.5 522.3 1346.0 521.6C1347.5 520.9 1349.3 519.4 1351.0 517.0C1352.7 514.6 1354.5 509.1 1356.0 507.0C1357.5 504.9 1358.7 504.7 1360.0 504.4C1361.3 504.1 1362.5 504.6 1364.0 505.4C1365.5 506.2 1367.2 508.1 1369.0 509.0C1370.8 509.9 1372.8 509.6 1375.0 510.6C1377.2 511.6 1379.8 513.6 1382.0 515.0C1384.2 516.4 1386.3 518.2 1388.0 519.0C1389.7 519.8 1390.5 520.2 1392.0 519.6C1393.5 519.0 1395.3 517.4 1397.0 515.5C1398.7 513.6 1400.8 509.8 1402.0 508.0C1403.2 506.2 1403.7 505.5 1404.0 505.0"/>
</g>
<rect x="737" y="94" width="525.4" height="240.4" fill="none" stroke="#000" stroke-width="1.9"/>
<rect x="737" y="342" width="525.4" height="237.6" fill="none" stroke="#000" stroke-width="1.9"/>
<text x="1124.34" y="128.50" font-size="30.3" textLength="51.51" lengthAdjust="spacingAndGlyphs">ANI</text>
<text class="s" x="1173.85" y="138.50" font-size="17.5" textLength="23.16" lengthAdjust="spacingAndGlyphs">0.1</text>
<text x="1205.83" y="128.50" font-size="30.3" textLength="43.51" lengthAdjust="spacingAndGlyphs">2 h</text>
<text x="1098.54" y="376.70" font-size="30.3" textLength="49.71" lengthAdjust="spacingAndGlyphs">ANI</text>
<text class="s" x="1147.62" y="386.20" font-size="17.5" textLength="34.06" lengthAdjust="spacingAndGlyphs">0.02</text>
<text x="1189.19" y="376.70" font-size="30.3" textLength="59.80" lengthAdjust="spacingAndGlyphs">48 h</text>
<path stroke="#e42f26" stroke-width="6" stroke-linecap="round" d="M966.7 172.5H984.6M961.9 419.4H979.8"/>
<path stroke="#0a9ee1" stroke-width="6" stroke-linecap="round" d="M966.7 207.4H984.6M961.9 453.9H979.8"/>
<text x="995.34" y="180.50" font-size="28.3" textLength="204.69" lengthAdjust="spacingAndGlyphs">FLAG-RPS3-WT</text>
<text x="995.36" y="216.30" font-size="28.3" textLength="243.20" lengthAdjust="spacingAndGlyphs">FLAG-RPS3-K214A</text>
<text x="990.04" y="427.20" font-size="28.3" textLength="205.19" lengthAdjust="spacingAndGlyphs">FLAG-RPS3-WT</text>
<text x="990.06" y="462.70" font-size="28.3" textLength="243.20" lengthAdjust="spacingAndGlyphs">FLAG-RPS3-K214A</text>
<text x="738.22" y="607.60" font-size="30.3" textLength="45.65" lengthAdjust="spacingAndGlyphs">free</text>
<text x="795.30" y="607.60" font-size="30.3" textLength="33.89" lengthAdjust="spacingAndGlyphs">40</text>
<text x="846.02" y="607.60" font-size="30.3" textLength="34.59" lengthAdjust="spacingAndGlyphs">60</text>
<text x="892.40" y="607.60" font-size="30.3" textLength="53.28" lengthAdjust="spacingAndGlyphs">80S</text>
<text x="959.96" y="607.60" font-size="30.3" textLength="35.46" lengthAdjust="spacingAndGlyphs">di-</text>
<text x="1022.47" y="607.60" font-size="30.3" textLength="33.20" lengthAdjust="spacingAndGlyphs">tri-</text>
<text x="1097.67" y="607.60" font-size="30.3" textLength="143.42" lengthAdjust="spacingAndGlyphs">polysomes</text>
</g>
<g id="panel-c">
<text x="1446.01" y="33.20" font-size="46" font-weight="bold" textLength="25.54" lengthAdjust="spacingAndGlyphs">c</text>
<text x="1644.32" y="81.70" font-size="30.3" textLength="261.12" lengthAdjust="spacingAndGlyphs">HeLa, 2× RPS3 KD</text>
<rect x="1495.9" y="94.8" width="553.2" height="101.3" fill="none" stroke="#000" stroke-width="1.8"/>
<rect x="1511.4" y="107" width="31.3" height="29.9" fill="#ffd9d9" stroke="#e42f26" stroke-width="1.8"/>
<rect x="1511.4" y="152.6" width="31.3" height="29.9" fill="#cce6fd" stroke="#0a9ee1" stroke-width="1.8"/>
<text x="1559.15" y="132.70" font-size="30.3" textLength="213.21" lengthAdjust="spacingAndGlyphs">FLAG-RPS3-WT</text>
<text x="1559.16" y="178.50" font-size="30.3" textLength="253.70" lengthAdjust="spacingAndGlyphs">FLAG-RPS3-K214A</text>
<path stroke="#000" stroke-width="1.9" d="M1833.2 109.5V177.6"/>
<circle cx="1863.4" cy="120" r="6.2" fill="#aaa" stroke="#000" stroke-width="3"/>
<circle cx="1863.4" cy="165.1" r="6.2" fill="#fff" stroke="#000" stroke-width="3"/>
<text x="1886.94" y="129.90" font-size="30.3" textLength="51.51" lengthAdjust="spacingAndGlyphs">ANI</text>
<text class="s" x="1936.96" y="139.80" font-size="17.5" textLength="22.84" lengthAdjust="spacingAndGlyphs">0.1</text>
<text x="1969.04" y="129.90" font-size="30.3" textLength="43.18" lengthAdjust="spacingAndGlyphs">2 h</text>
<text x="1886.94" y="178.50" font-size="30.3" textLength="51.51" lengthAdjust="spacingAndGlyphs">ANI</text>
<text class="s" x="1936.91" y="188.40" font-size="17.5" textLength="34.17" lengthAdjust="spacingAndGlyphs">0.02</text>
<text x="1978.70" y="178.50" font-size="30.3" textLength="58.96" lengthAdjust="spacingAndGlyphs">48 h</text>
<text x="1603.18" y="229.00" font-size="30.3" textLength="113.20" lengthAdjust="spacingAndGlyphs">free 40S</text>
<path stroke="#000" stroke-width="1.9" d="M1573 239H1747"/>
<text class="p" x="1612.56" y="263.60" font-size="20.3" textLength="81.50" lengthAdjust="spacingAndGlyphs">p = 0.04</text>
<path fill="none" stroke="#777" stroke-width="1.9" d="M1622.4 277.6V270H1697.4V277.6"/>
<g font-size="22" text-anchor="end">
<text x="1560.6" y="586.4">0</text>
<text x="1560.6" y="531.0">10</text>
<text x="1560.6" y="475.7">20</text>
<text x="1560.6" y="420.3">30</text>
<text x="1560.6" y="365.0">40</text>
<text x="1560.6" y="309.6">50</text>
</g>
<text transform="translate(1511.50 573.00) rotate(-90)" x="-0.69" y="0" font-size="30.3" textLength="273.89" lengthAdjust="spacingAndGlyphs">40S / polysome area</text>
<rect x="1601.2" y="412.6" width="45" height="166" fill="#ffd9d9" stroke="#e42f26" stroke-width="1.9"/>
<rect x="1675.1" y="353.4" width="44.6" height="225.2" fill="#cce6fd" stroke="#0a9ee1" stroke-width="2.1"/>
<path stroke="#000" stroke-width="1.9" fill="none" d="M1575.4 273.6V578.6M1566.6 578.6H1575.4M1566.6 523.2H1575.4M1566.6 467.9H1575.4M1566.6 412.5H1575.4M1566.6 357.2H1575.4M1566.6 301.8H1575.4M1566.6 578.6H1747"/>
<path stroke="#e42f26" stroke-width="2.4" fill="none" d="M1624 382.5V438.6M1611 382.5H1637M1611 438.6H1637"/>
<path stroke="#0a9ee1" stroke-width="2.9" fill="none" d="M1697.2 313.4V390.2M1684.5 313.4H1710M1684.5 390.2H1710"/>
<path stroke="#000" stroke-width="1.5" d="M1624 382.2L1697.2 359M1624 396L1697.2 296M1624 419.3L1697.2 382M1624 446.3L1697.2 371.2"/>
<circle cx="1624" cy="382.2" r="3.75" fill="#fff" stroke="#000" stroke-width="2"/>
<circle cx="1624" cy="396" r="3.75" fill="#fff" stroke="#000" stroke-width="2"/>
<circle cx="1624" cy="419.3" r="3.75" fill="#aaa" stroke="#000" stroke-width="2"/>
<circle cx="1624" cy="446.3" r="3.75" fill="#aaa" stroke="#000" stroke-width="2"/>
<circle cx="1697.2" cy="296" r="3.75" fill="#fff" stroke="#000" stroke-width="2"/>
<circle cx="1697.2" cy="359" r="3.75" fill="#fff" stroke="#000" stroke-width="2"/>
<circle cx="1697.2" cy="371.2" r="3.75" fill="#aaa" stroke="#000" stroke-width="2"/>
<circle cx="1697.2" cy="382" r="3.75" fill="#aaa" stroke="#000" stroke-width="2"/>
<text x="1899.59" y="228.50" font-size="30.3" textLength="126.81" lengthAdjust="spacingAndGlyphs">half-mers</text>
<path stroke="#000" stroke-width="1.9" d="M1875 239H2050"/>
<text class="p" x="1915.34" y="263.80" font-size="20.3" textLength="82.61" lengthAdjust="spacingAndGlyphs">p = 0.05</text>
<path fill="none" stroke="#777" stroke-width="1.9" d="M1925 277.7V270H2000.5V277.7"/>
<g font-size="22" text-anchor="end">
<text x="1859.6" y="586.4">0</text>
<text x="1859.6" y="517.0">10</text>
<text x="1859.6" y="447.7">20</text>
<text x="1859.6" y="378.4">30</text>
<text x="1859.6" y="309.0">40</text>
</g>
<text transform="translate(1782.00 482.00) rotate(-90)" x="-1.99" y="0" font-size="30" textLength="87.33" lengthAdjust="spacing">relative</text>
<text transform="translate(1818.40 543.20) rotate(-90)" x="-2.08" y="0" font-size="30" textLength="211.64" lengthAdjust="spacing">half-mer area (%)</text>
<rect x="1903.4" y="407.2" width="45" height="171.4" fill="#ffd9d9" stroke="#e42f26" stroke-width="1.9"/>
<rect x="1976.8" y="377.5" width="44.9" height="201.1" fill="#cce6fd" stroke="#0a9ee1" stroke-width="2.1"/>
<path stroke="#000" stroke-width="1.9" fill="none" d="M1877.8 300.4V578.6M1868.4 578.6H1877.8M1868.4 509.2H1877.8M1868.4 439.9H1877.8M1868.4 370.6H1877.8M1868.4 301.2H1877.8M1868.4 578.6H2050"/>
<path stroke="#e42f26" stroke-width="2.4" fill="none" d="M1925.9 367.5V443M1913 367.5H1939M1913 443H1939"/>
<path stroke="#0a9ee1" stroke-width="2.9" fill="none" d="M1999.3 325V425M1986 325H2012M1986 425H2012"/>
<path stroke="#000" stroke-width="1.5" d="M1925.9 353.2L1999.3 313.4M1925.9 407.6L1999.3 356.1M1925.9 418.8L1999.3 410.7M1925.9 441.7L1999.3 420.9"/>
<circle cx="1925.9" cy="353.2" r="3.75" fill="#fff" stroke="#000" stroke-width="2"/>
<circle cx="1925.9" cy="407.6" r="3.75" fill="#aaa" stroke="#000" stroke-width="2"/>
<circle cx="1925.9" cy="418.8" r="3.75" fill="#fff" stroke="#000" stroke-width="2"/>
<circle cx="1925.9" cy="441.7" r="3.75" fill="#aaa" stroke="#000" stroke-width="2"/>
<circle cx="1999.3" cy="313.4" r="3.75" fill="#fff" stroke="#000" stroke-width="2"/>
<circle cx="1999.3" cy="356.1" r="3.75" fill="#aaa" stroke="#000" stroke-width="2"/>
<circle cx="1999.3" cy="410.7" r="3.75" fill="#fff" stroke="#000" stroke-width="2"/>
<circle cx="1999.3" cy="420.9" r="3.75" fill="#aaa" stroke="#000" stroke-width="2"/>
</g>
</svg></body></html>
